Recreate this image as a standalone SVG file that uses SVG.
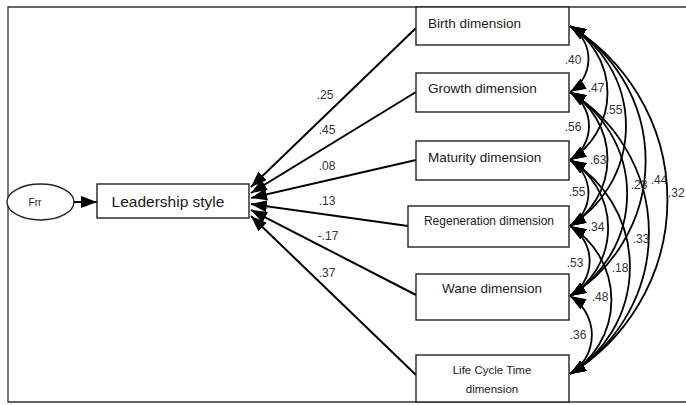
<svg xmlns="http://www.w3.org/2000/svg" width="686" height="405" viewBox="0 0 686 405">
<style>
.box{fill:#fff;stroke:#222;stroke-width:1.4}
.lbl{font-family:"Liberation Sans",Arial,sans-serif;fill:#1a1a1a}
.num{font-family:"Liberation Sans",Arial,sans-serif;font-size:12px;fill:#333}
.path{fill:none;stroke:#000;stroke-width:2}
.cov{fill:none;stroke:#000;stroke-width:1.8;marker-start:url(#ah2);marker-end:url(#ah2)}
</style>
<defs>
<marker id="ah" markerUnits="userSpaceOnUse" viewBox="0 0 16 12" refX="16" refY="6" markerWidth="16" markerHeight="12" orient="auto">
<path d="M0,0 L16,6 L0,12 z" fill="#000"/>
</marker>
<marker id="ah2" markerUnits="userSpaceOnUse" viewBox="0 0 16 12" refX="16" refY="6" markerWidth="16" markerHeight="12" orient="auto-start-reverse">
<path d="M0,0 L16,6 L0,12 z" fill="#000"/>
</marker>
</defs>
<rect width="686" height="405" fill="#fff"/>
<path d="M686,7 H8 V402 H686" fill="none" stroke="#333" stroke-width="1.3"/>

<g id="connectors">
<line class="path" x1="74" y1="202" x2="97" y2="202" marker-end="url(#ah)"/>
<line class="path" x1="416" y1="28" x2="251" y2="187" marker-end="url(#ah)"/>
<line class="path" x1="416" y1="92" x2="251" y2="193" marker-end="url(#ah)"/>
<line class="path" x1="416" y1="160" x2="251" y2="198" marker-end="url(#ah)"/>
<line class="path" x1="408" y1="226" x2="251" y2="204" marker-end="url(#ah)"/>
<line class="path" x1="416" y1="295" x2="251" y2="210" marker-end="url(#ah)"/>
<line class="path" x1="416" y1="375" x2="251" y2="216" marker-end="url(#ah)"/>

<path class="cov" d="M570,26 A38.7,38.7 0 0 1 570,92"/>
<path class="cov" d="M570,26 A78.6,78.6 0 0 1 570,160"/>
<path class="cov" d="M570,26 A117.3,117.3 0 0 1 570,226"/>
<path class="cov" d="M570,26 A158.3,158.3 0 0 1 570,296"/>
<path class="cov" d="M570,26 A204.1,204.1 0 0 1 570,374"/>
<path class="cov" d="M570,92 A39.9,39.9 0 0 1 570,160"/>
<path class="cov" d="M570,92 A78.6,78.6 0 0 1 570,226"/>
<path class="cov" d="M570,92 A119.6,119.6 0 0 1 570,296"/>
<path class="cov" d="M570,92 A165.4,165.4 0 0 1 570,374"/>
<path class="cov" d="M570,160 A38.7,38.7 0 0 1 570,226"/>
<path class="cov" d="M570,160 A79.7,79.7 0 0 1 570,296"/>
<path class="cov" d="M570,160 A125.5,125.5 0 0 1 570,374"/>
<path class="cov" d="M570,226 A41,41 0 0 1 570,296"/>
<path class="cov" d="M570,226 A86.8,86.8 0 0 1 570,374"/>
<path class="cov" d="M570,296 A45.7,45.7 0 0 1 570,374"/>
</g>

<g id="path-labels" class="num">
<text x="325" y="99" text-anchor="middle">.25</text>
<text x="327" y="134" text-anchor="middle">.45</text>
<text x="327" y="170" text-anchor="middle">.08</text>
<text x="327" y="205" text-anchor="middle">.13</text>
<text x="328" y="240" text-anchor="middle">-.17</text>
<text x="327" y="277" text-anchor="middle">.37</text>
</g>

<g id="cov-labels" class="num">
<text x="573" y="64" text-anchor="middle">.40</text>
<text x="596" y="92" text-anchor="middle">.47</text>
<text x="614" y="114" text-anchor="middle">.55</text>
<text x="573" y="131" text-anchor="middle">.56</text>
<text x="598" y="164" text-anchor="middle">.63</text>
<text x="639" y="189" text-anchor="middle">.23</text>
<text x="659" y="184" text-anchor="middle">.44</text>
<text x="668" y="197">.32</text>
<text x="577" y="196" text-anchor="middle">.55</text>
<text x="596" y="231" text-anchor="middle">.34</text>
<text x="641" y="243" text-anchor="middle">.33</text>
<text x="620" y="272" text-anchor="middle">.18</text>
<text x="575" y="267" text-anchor="middle">.53</text>
<text x="600" y="301" text-anchor="middle">.48</text>
<text x="578" y="339" text-anchor="middle">.36</text>
</g>

<g id="err">
<ellipse cx="40.5" cy="202" rx="33.5" ry="18" fill="#fff" stroke="#222" stroke-width="1.4"/>
<text class="lbl" x="35" y="206" font-size="10" text-anchor="middle">Frr</text>
</g>
<g id="leadership">
<rect class="box" x="97" y="184" width="152" height="34"/>
<text class="lbl" x="168" y="207" font-size="15.5" text-anchor="middle">Leadership style</text>
</g>
<g id="birth">
<rect class="box" x="416" y="7" width="153" height="38"/>
<text class="lbl" x="428" y="28" font-size="13.5">Birth dimension</text>
</g>
<g id="growth">
<rect class="box" x="416" y="73" width="153" height="39"/>
<text class="lbl" x="428" y="93" font-size="13.5">Growth dimension</text>
</g>
<g id="maturity">
<rect class="box" x="416" y="141" width="153" height="39"/>
<text class="lbl" x="428" y="162" font-size="13.5">Maturity dimension</text>
</g>
<g id="regeneration">
<rect class="box" x="408" y="206" width="161" height="41"/>
<text class="lbl" x="489" y="225" font-size="12" text-anchor="middle">Regeneration dimension</text>
</g>
<g id="wane">
<rect class="box" x="416" y="274" width="153" height="46"/>
<text class="lbl" x="492" y="293" font-size="13.5" text-anchor="middle">Wane dimension</text>
</g>
<g id="lifecycle">
<rect class="box" x="416" y="355" width="153" height="47"/>
<text class="lbl" x="492" y="374" font-size="11.5" text-anchor="middle">Life Cycle Time</text>
<text class="lbl" x="492" y="393" font-size="11.5" text-anchor="middle">dimension</text>
</g>
</svg>
